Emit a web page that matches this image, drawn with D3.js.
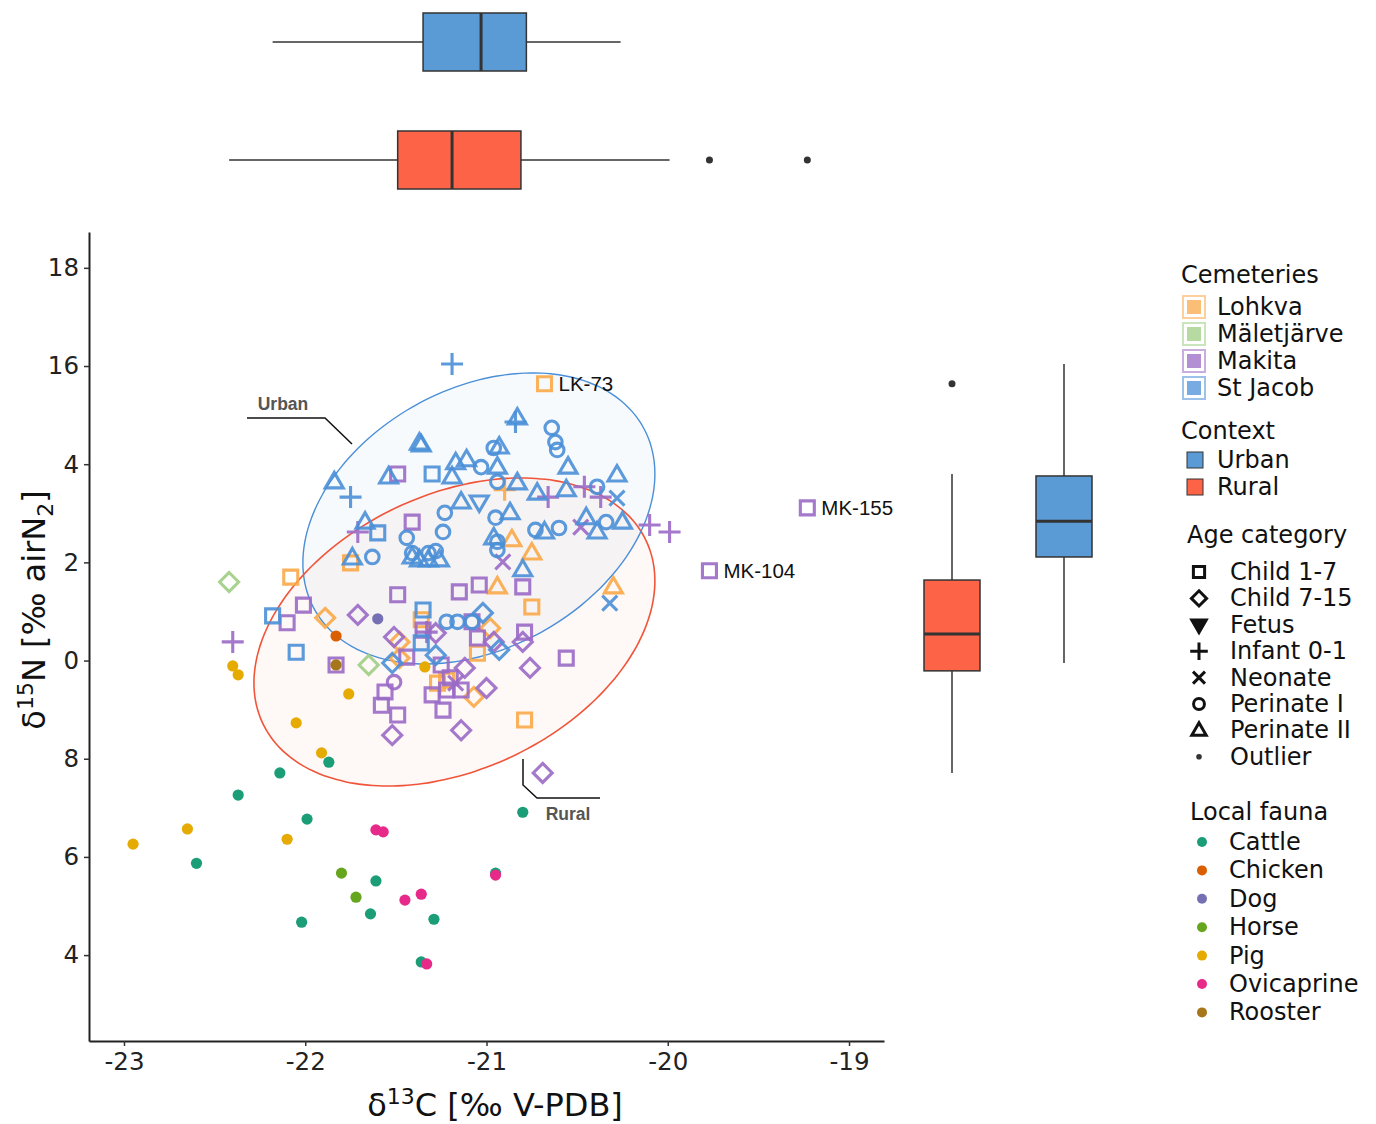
<!DOCTYPE html>
<html><head><meta charset="utf-8">
<script src="https://cdn.jsdelivr.net/npm/d3@7"></script>
<style>body{margin:0;background:#fff;} svg{display:block;font-family:"DejaVu Sans",sans-serif;}</style>
</head><body><svg id="c" width="1376" height="1124"></svg>
<script>
// ---------- data ----------
const xTicks = [-23, -22, -21, -20, -19];
const xTickLabels = ["-23", "-22", "-21", "-20", "-19"];
const yTicks = [4, 6, 8, 10, 12, 14, 16, 18];
const yTickLabels = ["4", "6", "8", "0", "2", "4", "16", "18"];

const cemeteries = ["Lohkva", "Mäletjärve", "Makita", "St Jacob"];
const cemeteryColors = ["#f9a848", "#9fcd84", "#9a6ac6", "#4a8fd7"];
const contexts = ["Urban", "Rural"];
const contextColors = ["#5b9bd5", "#fd6346"];
const ageCategories = ["Child 1-7", "Child 7-15", "Fetus", "Infant 0-1", "Neonate", "Perinate I", "Perinate II", "Outlier"];
const ageCodes = ["S", "D", "F", "P", "X", "C", "T", "O"];
const faunaSpecies = ["Cattle", "Chicken", "Dog", "Horse", "Pig", "Ovicaprine", "Rooster"];
const faunaColors = ["#1b9e77", "#d95f02", "#7570b3", "#66a61e", "#e6ab02", "#e7298a", "#a6761d"];

// human samples: [δ13C, δ15N, age code]
const lohkva = [
  [-20.68,15.64,"S"],[-20.90,13.48,"P"],[-20.86,12.46,"T"],[-20.75,12.19,"T"],[-20.30,11.50,"T"],
  [-20.94,11.50,"T"],[-20.75,11.09,"S"],[-21.75,11.99,"S"],[-22.08,11.70,"S"],[-21.89,10.87,"D"],
  [-21.36,10.83,"S"],[-21.48,10.38,"D"],[-21.48,10.05,"D"],[-20.98,10.66,"D"],[-21.05,10.15,"S"],
  [-21.27,9.54,"S"],[-21.22,9.60,"S"],[-21.07,9.26,"D"],[-20.79,8.79,"S"]
];
const maletjarve = [
  [-22.42,11.60,"D"],[-21.65,9.91,"D"]
];
const makita = [
  [-19.23,13.11,"S"],[-19.77,11.83,"S"],[-21.49,13.80,"S"],[-21.71,12.62,"P"],[-21.41,12.82,"S"],
  [-20.66,13.33,"P"],[-20.46,13.54,"P"],[-20.37,13.33,"P"],[-20.48,12.72,"X"],[-20.10,12.76,"P"],
  [-19.99,12.62,"P"],[-20.91,12.01,"X"],[-21.15,11.40,"S"],[-21.04,11.54,"S"],[-20.80,11.50,"S"],
  [-21.49,11.34,"S"],[-22.01,11.13,"S"],[-22.10,10.77,"S"],[-21.71,10.93,"D"],[-22.40,10.38,"P"],
  [-21.51,10.48,"D"],[-21.35,10.62,"S"],[-21.33,10.58,"P"],[-21.28,10.56,"D"],[-21.44,10.07,"S"],
  [-21.83,9.91,"S"],[-21.25,9.91,"S"],[-21.51,9.56,"C"],[-21.56,9.36,"S"],[-21.58,9.09,"S"],
  [-21.49,8.89,"S"],[-21.52,8.48,"D"],[-21.30,9.30,"S"],[-21.24,8.99,"S"],[-21.20,9.65,"S"],
  [-21.17,9.54,"X"],[-21.14,9.40,"S"],[-21.12,9.85,"D"],[-21.00,9.44,"D"],[-21.14,8.58,"D"],
  [-21.05,10.46,"S"],[-20.96,10.38,"D"],[-20.79,10.58,"S"],[-20.80,10.38,"D"],[-20.76,9.85,"D"],
  [-20.56,10.05,"S"],[-20.69,7.71,"D"],[-21.08,10.79,"S"],[-21.22,9.40,"S"]
];
const stJacob = [
  [-21.19,16.04,"P"],[-21.37,14.43,"T"],[-21.36,14.39,"T"],[-21.84,13.64,"T"],[-21.75,13.33,"P"],
  [-21.54,13.74,"T"],[-21.30,13.80,"S"],[-21.17,14.03,"T"],[-21.11,14.09,"T"],[-21.19,13.74,"T"],
  [-21.67,12.82,"T"],[-21.60,12.60,"S"],[-21.44,12.50,"C"],[-21.24,12.62,"C"],[-21.23,13.01,"C"],
  [-21.74,12.09,"T"],[-21.63,12.11,"C"],[-21.41,12.11,"T"],[-21.37,12.05,"T"],[-21.32,12.05,"T"],
  [-21.26,12.05,"T"],[-21.41,12.19,"C"],[-21.32,12.19,"C"],[-21.28,12.23,"C"],[-22.18,10.91,"S"],
  [-21.35,11.03,"S"],[-22.05,10.17,"S"],[-20.83,14.94,"T"],[-20.84,14.86,"P"],[-20.64,14.74,"C"],
  [-20.62,14.45,"C"],[-20.61,14.29,"C"],[-20.96,14.33,"C"],[-20.93,14.35,"T"],[-20.55,13.94,"T"],
  [-20.28,13.78,"T"],[-21.03,13.94,"C"],[-20.94,13.94,"T"],[-20.94,13.64,"C"],[-20.83,13.62,"T"],
  [-20.72,13.41,"T"],[-20.56,13.48,"T"],[-20.39,13.54,"C"],[-20.28,13.31,"X"],[-21.14,13.23,"T"],
  [-21.04,13.23,"F"],[-20.95,12.91,"C"],[-20.87,13.01,"T"],[-20.73,12.66,"C"],[-20.68,12.62,"T"],
  [-20.60,12.70,"C"],[-20.45,12.91,"T"],[-20.34,12.82,"C"],[-20.25,12.82,"T"],[-20.39,12.62,"T"],
  [-20.96,12.50,"T"],[-20.94,12.42,"C"],[-20.94,12.25,"C"],[-20.80,11.85,"T"],[-20.32,11.17,"X"],
  [-21.02,10.97,"D"],[-21.22,10.79,"C"],[-21.16,10.79,"C"],[-21.08,10.79,"C"],[-20.93,10.22,"D"],
  [-21.52,9.95,"D"],[-21.28,10.11,"D"],[-21.36,10.36,"S"]
];
const humanGroups = [lohkva, maletjarve, makita, stJacob];

// local fauna: [δ13C, δ15N]
const cattle = [[-22.14,7.71],[-22.37,7.26],[-21.99,6.77],[-22.60,5.87],[-21.61,5.51],[-21.64,4.84],
  [-22.02,4.67],[-21.29,4.73],[-21.36,3.86],[-21.87,7.93],[-20.95,5.67],[-20.80,6.91]];
const chicken = [[-21.83,10.50]];
const dog = [[-21.60,10.85]];
const horse = [[-21.80,5.67],[-21.72,5.18]];
const pig = [[-22.95,6.26],[-22.65,6.57],[-22.10,6.36],[-21.91,8.12],[-22.40,9.89],[-22.37,9.71],
  [-22.05,8.73],[-21.76,9.32],[-21.34,9.87]];
const ovicaprine = [[-21.61,6.55],[-21.57,6.51],[-21.45,5.12],[-21.36,5.24],[-21.33,3.82],[-20.95,5.63]];
const rooster = [[-21.83,9.91]];
const faunaGroups = [cattle, chicken, dog, horse, pig, ovicaprine, rooster];

// boxplots: [lower whisker, Q1, median, Q3, upper whisker]
const boxC13 = { Urban: [-22.18, -21.35, -21.03, -20.78, -20.26], Rural: [-22.42, -21.49, -21.19, -20.81, -19.99] };
const outC13 = { Urban: [], Rural: [-19.77, -19.23] };
const boxN15 = { Urban: [9.95, 12.11, 12.84, 13.76, 16.04], Rural: [7.71, 9.79, 10.54, 11.64, 13.80] };
const outN15 = { Urban: [], Rural: [15.64] };

// confidence ellipses: centre and two conjugate radius vectors (data units)
const ellipseUrban = { c: [-21.042, 12.895], u: [0.971, 0.907], v: [0, -2.822] };
const ellipseRural = { c: [-21.177, 10.582], u: [1.106, 1.039], v: [0, -2.961] };

const sampleLabels = [["LK-73", -20.68, 15.64], ["MK-155", -19.23, 13.11], ["MK-104", -19.77, 11.83]];

// ---------- drawing ----------
const svg = d3.select("#c");
const x = d3.scaleLinear().domain([-23.193, -18.807]).range([89, 884]);
const y = d3.scaleLinear().domain([2.25, 18.73]).range([1041, 232]);

function shapePath(code, s) {
  s = s || 1;
  switch (code) {
    case "S": return `M${-7*s},${-7*s}H${7*s}V${7*s}H${-7*s}Z`;
    case "D": return `M0,${-9.5*s}L${9.5*s},0L0,${9.5*s}L${-9.5*s},0Z`;
    case "T": return `M0,${-9.5*s}L${9*s},${6*s}L${-9*s},${6*s}Z`;
    case "F": return `M0,${9.5*s}L${9*s},${-6*s}L${-9*s},${-6*s}Z`;
    case "C": { const p = d3.path(); p.arc(0, 0, 6.8*s, 0, 2*Math.PI); p.closePath(); return p.toString(); }
    case "P": return `M${-11*s},0H${11*s}M0,${-11*s}V${11*s}`;
    case "X": return `M${-7.5*s},${-7.5*s}L${7.5*s},${7.5*s}M${-7.5*s},${7.5*s}L${7.5*s},${-7.5*s}`;
  }
  return "";
}

// ellipses
function ellipsePts(e) {
  return d3.range(0, 360, 3).map(a => {
    const t = a * Math.PI / 180;
    return [e.c[0] + e.u[0]*Math.cos(t) + e.v[0]*Math.sin(t), e.c[1] + e.u[1]*Math.cos(t) + e.v[1]*Math.sin(t)];
  });
}
const eLine = d3.line().x(d => x(d[0])).y(d => y(d[1])).curve(d3.curveCardinalClosed);
const gE = svg.append("g");
gE.append("path").attr("d", eLine(ellipsePts(ellipseRural))).attr("fill", "#f4724f").attr("fill-opacity", 0.05);
gE.append("path").attr("d", eLine(ellipsePts(ellipseUrban))).attr("fill", "#4a8fd7").attr("fill-opacity", 0.045);
gE.append("path").attr("d", eLine(ellipsePts(ellipseRural))).attr("fill", "none").attr("stroke", "#f0553a").attr("stroke-width", 1.6);
gE.append("path").attr("d", eLine(ellipsePts(ellipseUrban))).attr("fill", "none").attr("stroke", "#4a8fd7").attr("stroke-width", 1.4);

// human points
const gH = svg.append("g");
humanGroups.forEach((grp, gi) => {
  gH.selectAll(null).data(grp).enter().append("path")
    .attr("transform", d => `translate(${x(d[0])},${y(d[1])})`)
    .attr("d", d => shapePath(d[2]))
    .attr("fill", "none")
    .attr("stroke", cemeteryColors[gi])
    .attr("stroke-width", 3.1)
    .attr("stroke-opacity", 0.9);
});

// fauna
const gF = svg.append("g");
faunaGroups.forEach((grp, gi) => {
  gF.selectAll(null).data(grp).enter().append("circle")
    .attr("cx", d => x(d[0])).attr("cy", d => y(d[1])).attr("r", 5.6)
    .attr("fill", faunaColors[gi]);
});

// sample labels
sampleLabels.forEach(l => {
  svg.append("text").attr("x", x(l[1]) + 14).attr("y", y(l[2])).attr("dominant-baseline", "central")
    .attr("font-family", "Liberation Sans, Arial, sans-serif").attr("font-size", 20.5).attr("fill", "#111").text(l[0]);
});

// group annotations
const ann = svg.append("g");
ann.append("path").attr("d", d3.line()([[247, 418], [325, 418], [352, 444]])).attr("stroke", "#111").attr("stroke-width", 1.5).attr("fill", "none");
ann.append("text").attr("x", 283).attr("y", 404).attr("text-anchor", "middle").attr("dominant-baseline", "central")
  .attr("font-family", "Liberation Sans, Arial, sans-serif").attr("font-weight", "bold").attr("font-size", 17.5).attr("fill", "#555").text("Urban");
ann.append("path").attr("d", d3.line()([[523, 759], [523, 785], [537, 798], [600, 798]])).attr("stroke", "#111").attr("stroke-width", 1.5).attr("fill", "none");
ann.append("text").attr("x", 568).attr("y", 814).attr("text-anchor", "middle").attr("dominant-baseline", "central")
  .attr("font-family", "Liberation Sans, Arial, sans-serif").attr("font-weight", "bold").attr("font-size", 17.5).attr("fill", "#555").text("Rural");

// axes
const xAxis = svg.append("g").attr("transform", "translate(0,1041)")
  .call(d3.axisBottom(x).tickValues(xTicks).tickFormat((d, i) => xTickLabels[i]).tickSize(5).tickSizeOuter(0).tickPadding(7));
const yAxis = svg.append("g").attr("transform", "translate(89,0)")
  .call(d3.axisLeft(y).tickValues(yTicks).tickFormat((d, i) => yTickLabels[i]).tickSize(5).tickSizeOuter(0).tickPadding(5));
[xAxis, yAxis].forEach(a => {
  a.select(".domain").attr("stroke", "#222").attr("stroke-width", 2);
  a.selectAll(".tick line").attr("stroke", "#333").attr("stroke-width", 1.5);
  a.selectAll(".tick text").attr("font-family", "DejaVu Sans").attr("font-size", 24.5).attr("fill", "#222");
});

// axis titles
const xt = svg.append("text").attr("x", 495).attr("y", 1116).attr("text-anchor", "middle")
  .attr("font-size", 32).attr("fill", "#111");
xt.append("tspan").text("δ");
xt.append("tspan").attr("dy", -12).attr("font-size", 22).text("13");
xt.append("tspan").attr("dy", 12).text("C [‰ V-PDB]");
const yt = svg.append("text").attr("transform", "translate(45,610) rotate(-90)").attr("text-anchor", "middle")
  .attr("font-size", 32).attr("fill", "#111");
yt.append("tspan").text("δ");
yt.append("tspan").attr("dy", -12).attr("font-size", 22).text("15");
yt.append("tspan").attr("dy", 12).text("N [‰ airN");
yt.append("tspan").attr("dy", 8).attr("font-size", 22).text("2");
yt.append("tspan").attr("dy", -8).text("]");

// top boxplots (δ13C)
const yTop = d3.scalePoint().domain(contexts).range([42, 160]);
const topH = 58;
contexts.forEach((c, i) => {
  const b = boxC13[c], cy = yTop(c), g = svg.append("g");
  g.append("line").attr("x1", x(b[0])).attr("x2", x(b[1])).attr("y1", cy).attr("y2", cy).attr("stroke", "#333").attr("stroke-width", 1.5);
  g.append("line").attr("x1", x(b[3])).attr("x2", x(b[4])).attr("y1", cy).attr("y2", cy).attr("stroke", "#333").attr("stroke-width", 1.5);
  g.append("rect").attr("x", x(b[1])).attr("y", cy - topH/2).attr("width", x(b[3]) - x(b[1])).attr("height", topH)
    .attr("fill", contextColors[i]).attr("stroke", "#333").attr("stroke-width", 1.5);
  g.append("line").attr("x1", x(b[2])).attr("x2", x(b[2])).attr("y1", cy - topH/2).attr("y2", cy + topH/2).attr("stroke", "#333").attr("stroke-width", 3);
  outC13[c].forEach(o => g.append("circle").attr("cx", x(o)).attr("cy", cy).attr("r", 3.5).attr("fill", "#333"));
});

// right boxplots (δ15N)
const xRight = d3.scalePoint().domain(["Rural", "Urban"]).range([952, 1064]);
const rW = 56;
contexts.forEach((c, i) => {
  const b = boxN15[c], cx = xRight(c), g = svg.append("g");
  g.append("line").attr("y1", y(b[0])).attr("y2", y(b[1])).attr("x1", cx).attr("x2", cx).attr("stroke", "#333").attr("stroke-width", 1.5);
  g.append("line").attr("y1", y(b[3])).attr("y2", y(b[4])).attr("x1", cx).attr("x2", cx).attr("stroke", "#333").attr("stroke-width", 1.5);
  g.append("rect").attr("x", cx - rW/2).attr("y", y(b[3])).attr("width", rW).attr("height", y(b[1]) - y(b[3]))
    .attr("fill", contextColors[i]).attr("stroke", "#333").attr("stroke-width", 1.5);
  g.append("line").attr("x1", cx - rW/2).attr("x2", cx + rW/2).attr("y1", y(b[2])).attr("y2", y(b[2])).attr("stroke", "#333").attr("stroke-width", 3);
  outN15[c].forEach(o => g.append("circle").attr("cx", cx).attr("cy", y(o)).attr("r", 3.5).attr("fill", "#333"));
});

// legends
const L = svg.append("g").attr("font-size", 24).attr("fill", "#111");
function ltext(xp, yp, t) { L.append("text").attr("x", xp).attr("y", yp).attr("dominant-baseline", "central").text(t); }
ltext(1181, 275, "Cemeteries");
cemeteries.forEach((c, i) => {
  const cy = 307 + i * 27;
  L.append("rect").attr("x", 1183).attr("y", cy - 11).attr("width", 22).attr("height", 22)
    .attr("fill", "#fff").attr("stroke", cemeteryColors[i]).attr("stroke-opacity", 0.55).attr("stroke-width", 2);
  L.append("rect").attr("x", 1187).attr("y", cy - 7).attr("width", 14).attr("height", 14)
    .attr("fill", cemeteryColors[i]).attr("fill-opacity", 0.75);
  ltext(1217, cy, c);
});
ltext(1181, 431, "Context");
contexts.forEach((c, i) => {
  const cy = 460 + i * 27;
  L.append("rect").attr("x", 1187).attr("y", cy - 8).attr("width", 16).attr("height", 16)
    .attr("fill", contextColors[i]).attr("stroke", "#333").attr("stroke-width", 1);
  ltext(1217, cy, c);
});
ltext(1187, 535, "Age category");
ageCategories.forEach((a, i) => {
  const cy = 572 + i * 26.4;
  const code = ageCodes[i];
  if (code === "O") {
    L.append("circle").attr("cx", 1199).attr("cy", cy).attr("r", 2.8).attr("fill", "#333");
  } else {
    L.append("path").attr("transform", `translate(1199,${cy})`).attr("d", shapePath(code, 0.8))
      .attr("fill", code === "F" ? "#111" : "none").attr("stroke", "#111").attr("stroke-width", 3);
  }
  ltext(1230, cy, a);
});
ltext(1190, 812, "Local fauna");
faunaSpecies.forEach((f, i) => {
  const cy = 842 + i * 28.4;
  L.append("circle").attr("cx", 1202).attr("cy", cy).attr("r", 5).attr("fill", faunaColors[i]);
  ltext(1229, cy, f);
});
</script></body></html>
